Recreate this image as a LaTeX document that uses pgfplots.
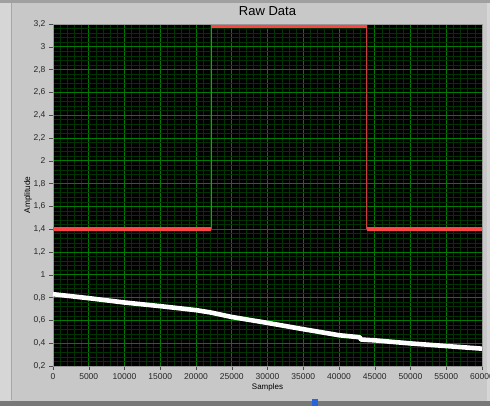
\documentclass[border=0pt]{standalone}
\usepackage{pgfplots}
\pgfplotsset{compat=1.18}
\usepackage{fontspec}
\setmainfont{Liberation Sans}
\definecolor{panel}{RGB}{200,200,200}
\definecolor{leftstrip}{RGB}{214,214,214}
\definecolor{topstrip}{RGB}{160,160,160}
\definecolor{bottomstrip}{RGB}{120,120,120}
\definecolor{majgrid}{RGB}{0,125,0}
\definecolor{mingrid}{RGB}{0,52,0}
\definecolor{sigred}{RGB}{255,66,66}
\definecolor{edgered}{RGB}{200,64,64}
\definecolor{knob}{RGB}{40,100,220}
\begin{document}
\begin{tikzpicture}[x=1pt,y=1pt]
\path[use as bounding box] (0,0) rectangle (490,406);
\fill[panel] (0,0) rectangle (490,406);
\fill[leftstrip] (0,0) rectangle (10.5,406);
\draw[color=gray!70,line width=0.6pt] (10.8,6) -- (10.8,403);
\fill[leftstrip] (486.5,0) rectangle (490,406);
\fill[topstrip] (0,403) rectangle (490,406);
\fill[bottomstrip] (0,0) rectangle (490,5);
\fill[knob] (312,0) rectangle (317.5,6.5);
\begin{axis}[
  at={(53pt,40pt)}, anchor=south west,
  scale only axis, width=429pt, height=342pt,
  xmin=0, xmax=60000, ymin=0.2, ymax=3.2,
  xtick={0,5000,...,60000},
  ytick={0.2,0.4,0.6,0.8,1,1.2,1.4,1.6,1.8,2,2.2,2.4,2.6,2.8,3,3.2},
  minor x tick num=4, minor y tick num=4,
  grid=both,
  major grid style={draw=majgrid, line width=0.6pt},
  minor grid style={draw=mingrid, line width=0.55pt},
  axis background/.style={fill=black},
  axis line style={draw=gray!80, line width=0.6pt},
  tick pos=left, tick align=outside,
  major tick length=4pt, minor tick length=0pt,
  every tick/.style={draw=black!70, line width=0.5pt},
  scaled x ticks=false, scaled y ticks=false,
  /pgf/number format/assume math mode=true,
  /pgf/number format/use comma,
  /pgf/number format/1000 sep={},
  ticklabel style={font=\fontsize{8.5}{10}\selectfont, text=black!85},
  title={Raw Data},
  every axis title shift=0pt,
  title style={at={(axis description cs:0.5,1.0234)}, anchor=base, yshift=0pt, font=\fontsize{13}{15}\selectfont},
  xlabel={Samples},
  xlabel style={at={(axis description cs:0.5,-0.0635)}, anchor=center, font=\fontsize{8}{10}\selectfont},
  ylabel={Amplitude},
  ylabel style={at={(axis description cs:-0.0583,0.5)}, anchor=center, font=\fontsize{8.3}{10}\selectfont},
  clip=true,
]
% red signal: vertical edges (thin)
\addplot[edgered, line width=1pt] coordinates {(22100,1.40) (22100,3.18)};
\addplot[edgered, line width=1pt] coordinates {(43870,3.18) (43870,1.40)};
% red signal: levels (thick)
\addplot[sigred, line width=3.6pt] coordinates {(0,1.40) (22100,1.40)};
\addplot[sigred, line width=3.4pt] coordinates {(22100,3.18) (43870,3.18)};
\addplot[sigred, line width=3.6pt] coordinates {(43870,1.40) (60000,1.40)};
% white signal
\addplot[white, line width=4.6pt, line join=round] coordinates {
 (0,0.830) (5000,0.795) (10000,0.757) (15000,0.725) (20000,0.690)
 (22000,0.670) (25000,0.630) (30000,0.578) (35000,0.523) (40000,0.470)
 (42900,0.452) (43100,0.432) (45000,0.425) (50000,0.398) (55000,0.375) (60000,0.352)};
\end{axis}
\end{tikzpicture}
\end{document}
